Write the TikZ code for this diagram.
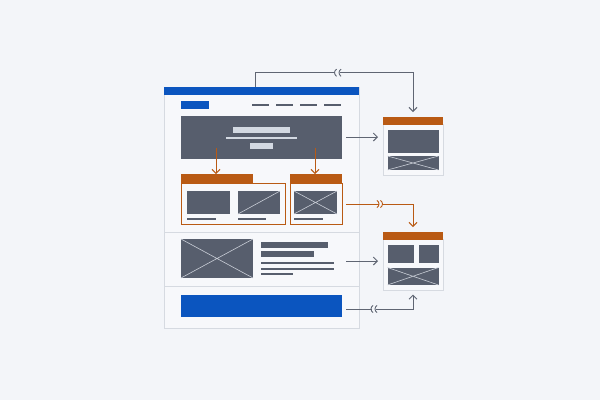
\documentclass[tikz,border=0pt]{standalone}
\usetikzlibrary{arrows.meta}
\definecolor{bgc}{HTML}{F3F5F9}
\definecolor{bluec}{HTML}{0B55BF}
\definecolor{darkc}{HTML}{575E6D}
\definecolor{orangec}{HTML}{B95A14}
\definecolor{framec}{HTML}{D6DAE1}
\definecolor{paperc}{HTML}{F7F8FB}
\definecolor{connc}{HTML}{5F6573}
\definecolor{lightc}{HTML}{D3D9E2}
\definecolor{xc}{HTML}{C9CED7}
\tikzset{
  rect/.style={anchor=north west, inner sep=0pt, outer sep=0pt, draw=none},
  frm/.style={rect, fill=paperc, draw=framec, line width=0.8pt},
  dk/.style={rect, fill=darkc},
  bl/.style={rect, fill=bluec},
  lt/.style={rect, fill=lightc},
  og/.style={rect, fill=orangec},
  ogline/.style={rect, draw=orangec, line width=0.9pt},
  xl/.style={draw=xc, line width=0.6pt},
  navd/.style={draw=darkc, line width=2.4pt},
  conn/.style={draw=connc, line width=1pt},
  oconn/.style={draw=orangec, line width=1pt},
  tip/.style={-{Straight Barb[length=4pt,width=8pt]}},
  jl/.style={line width=0.9pt}
}
\newcommand{\jleft}[3]{\draw[jl,#3] (#1+1.6,#2-3.6) .. controls (#1-1.2,#2-1.6) and (#1-1.2,#2+1.6) .. (#1+1.6,#2+3.6);}
\newcommand{\jright}[3]{\draw[jl,#3] (#1-1.6,#2-3.6) .. controls (#1+1.2,#2-1.6) and (#1+1.2,#2+1.6) .. (#1-1.6,#2+3.6);}
\begin{document}
\begin{tikzpicture}[x=1pt,y=-1pt]
\fill[bgc] (0,0) rectangle (600,400);
\useasboundingbox (0,0) rectangle (600,400);
% main page
\node[frm, minimum width=195pt, minimum height=241pt] (page) at (164,87) {};
\node[bl, minimum width=195pt, minimum height=8pt] (hdr) at (164,87) {};
\node[bl, minimum width=28pt, minimum height=8pt] (logo) at (181,101) {};
\draw[navd] (252,105) -- (269,105) (276,105) -- (293,105) (300,105) -- (317,105) (324,105) -- (341,105);
% hero
\node[dk, minimum width=161pt, minimum height=43pt] (hero) at (181,116) {};
\node[lt, minimum width=57pt, minimum height=5.5pt] (ht1) at (233,127) {};
\node[lt, minimum width=71pt, minimum height=1.8pt] (ht2) at (226,137) {};
\node[lt, minimum width=23pt, minimum height=6pt] (ht3) at (250,143) {};
% cards
\node[og, minimum width=72pt, minimum height=9pt] (tabA) at (181,174) {};
\node[ogline, minimum width=104pt, minimum height=41pt] (cardA) at (181,183) {};
\node[og, minimum width=52pt, minimum height=9pt] (tabB) at (290,174) {};
\node[ogline, minimum width=52pt, minimum height=41pt] (cardB) at (290,183) {};
\node[dk, minimum width=43pt, minimum height=23pt] (img1) at (187,191) {};
\node[dk, minimum width=29pt, minimum height=2pt] (cap1) at (187,217.5) {};
\node[dk, minimum width=42pt, minimum height=23pt] (img2) at (238,191) {};
\draw[xl] (img2.south west) -- (img2.north east);
\node[dk, minimum width=28pt, minimum height=2pt] (cap2) at (238,217.5) {};
\node[dk, minimum width=43pt, minimum height=23pt] (img3) at (294,191) {};
\draw[xl] (img3.south west) -- (img3.north east) (img3.north west) -- (img3.south east);
\node[dk, minimum width=29pt, minimum height=2pt] (cap3) at (294,217.5) {};
% dividers
\draw[framec, line width=0.8pt] (164,232) -- (359,232) (164,286) -- (359,286);
% media section
\node[dk, minimum width=72pt, minimum height=39pt] (img4) at (181,239) {};
\draw[xl] (img4.south west) -- (img4.north east) (img4.north west) -- (img4.south east);
\node[dk, minimum width=67pt, minimum height=5.5pt] (t1) at (261,242) {};
\node[dk, minimum width=53pt, minimum height=5.5pt] (t2) at (261,251) {};
\node[dk, minimum width=73pt, minimum height=2pt] (t3) at (261,261.5) {};
\node[dk, minimum width=73pt, minimum height=2pt] (t4) at (261,267.5) {};
\node[dk, minimum width=32pt, minimum height=2pt] (t5) at (261,273) {};
% footer
\node[bl, minimum width=161pt, minimum height=22pt] (foot) at (181,295) {};
% box 1
\node[frm, minimum width=60pt, minimum height=51pt] (box1) at (383,124) {};
\node[og, minimum width=60pt, minimum height=7.5pt] (box1h) at (383,117) {};
\node[dk, minimum width=51pt, minimum height=23pt] (b1a) at (387.5,129.5) {};
\node[dk, minimum width=51pt, minimum height=14pt] (b1b) at (387.5,156) {};
\draw[xl] (b1b.south west) -- (b1b.north east) (b1b.north west) -- (b1b.south east);
% box 2
\node[frm, minimum width=60pt, minimum height=50.5pt] (box2) at (383,239.5) {};
\node[og, minimum width=60pt, minimum height=7.5pt] (box2h) at (383,232) {};
\node[dk, minimum width=26pt, minimum height=18pt] (b2a) at (387.5,244.5) {};
\node[dk, minimum width=20pt, minimum height=18pt] (b2b) at (418.5,244.5) {};
\node[dk, minimum width=51pt, minimum height=17.5pt] (b2c) at (387.5,267.5) {};
\draw[xl] (b2c.south west) -- (b2c.north east) (b2c.north west) -- (b2c.south east);
% connector coordinates
\coordinate (s1) at (255,87);
\coordinate (j1a) at (335,72.7);
\coordinate (j1b) at (339.5,72.7);
\coordinate (s2) at (346,137);
\coordinate (s3) at (346,204);
\coordinate (j3a) at (378.5,204);
\coordinate (j3b) at (382,204);
\coordinate (s4) at (346,261);
\coordinate (s5) at (346,309);
\coordinate (j5a) at (371.5,309);
\coordinate (j5b) at (375.5,309);
\coordinate (d1s) at (216,148);
\coordinate (d2s) at (315,148);
% connectors
\draw[conn] (s1) |- (j1a);
\draw[conn, tip, shorten >=5pt] (j1b) -| (box1h.north);
\jleft{335}{72.7}{connc}
\jleft{339.5}{72.7}{connc}
\draw[conn, tip, shorten >=5pt] (s2) -- (s2 -| box1.west);
\draw[oconn] (s3) -- (j3a);
\draw[oconn, tip, shorten >=5pt] (j3b) -| (box2h.north);
\jright{378.5}{204}{orangec}
\jright{382}{204}{orangec}
\draw[conn, tip, shorten >=5pt] (s4) -- (s4 -| box2.west);
\draw[conn] (s5) -- (j5a);
\draw[conn, tip, shorten >=4.5pt] (j5b) -| (box2.south);
\jleft{371.5}{309}{connc}
\jleft{375.5}{309}{connc}
\draw[oconn, tip] (d1s) -- (d1s |- tabA.north);
\draw[oconn, tip] (d2s) -- (d2s |- tabB.north);
\end{tikzpicture}
\end{document}
